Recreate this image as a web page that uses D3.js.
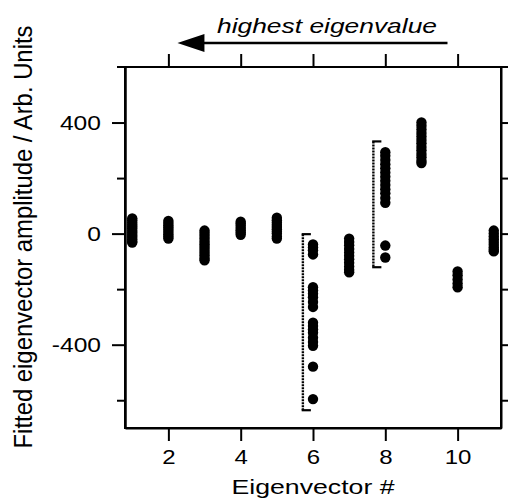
<!DOCTYPE html>
<html>
<head>
<meta charset="utf-8">
<script src="https://cdn.jsdelivr.net/npm/d3@7"></script>
<style>
  html, body { margin: 0; padding: 0; background: #fff; }
  text { font-family: "Liberation Sans", Arial, sans-serif; fill: #000; }
</style>
</head>
<body>
<svg id="chart" width="510" height="500"></svg>
<script>
// ---- data ----
const eigenvectors = [1, 2, 3, 4, 5, 6, 7, 8, 9, 10, 11];
const amp1  = [55, 48, 40, 32, 25, 18, 10, 3, -5, -12, -20, -28, -32];
const amp2  = [46, 38, 30, 22, 14, 6, -2, -10, -18];
const amp3  = [11, 2, -8, -18, -28, -38, -48, -58, -68, -78, -88, -96];
const amp4  = [43, 36, 28, 20, 12, 4, -4];
const amp5  = [57, 48, 40, 32, 24, 16, 8, 0, -10, -18];
const amp6  = [-39, -50, -60, -75, -193, -205, -217, -229, -246, -264, -321, -333, -345, -357, -375, -390, -404, -479, -596];
const amp7  = [-18, -30, -42, -55, -68, -80, -92, -105, -118, -130, -139];
const amp8  = [293, 280, 265, 250, 235, 220, 205, 190, 175, 160, 145, 128, 111, -43, -86];
const amp9  = [400, 388, 375, 362, 350, 337, 325, 312, 300, 287, 275, 262, 254];
const amp10 = [-136, -150, -165, -180, -193];
const amp11 = [11, 0, -10, -20, -30, -40, -50, -58, -64];
const amplitudes = [amp1, amp2, amp3, amp4, amp5, amp6, amp7, amp8, amp9, amp10, amp11];

const xTicks = [2, 4, 6, 8, 10];
const yMajorTicks = [-400, 0, 400];
const yMinorTicks = [-600, -200, 200];
const yAllTicks = [-600, -400, -200, 0, 200, 400];

// brackets (data coordinates)
const bracketX = [5.72, 7.67];
const bracketTop = [-2, 332];
const bracketBottom = [-636, -121];

// arrow (data coordinates along eigenvector axis)
const arrowFrom = 9.72;
const arrowTo = 2.25;

const xTitle = "Eigenvector #";
const yTitle = "Fitted eigenvector amplitude / Arb. Units";
const topLabel = "highest eigenvalue";

// ---- drawing ----
const svg = d3.select("#chart");
const x = d3.scaleLinear().domain([0.8, 11.2]).range([125, 501]);
const y = d3.scaleLinear().domain([-700, 600]).range([428, 67]);
const SW = 2;

function stretch(sel, f) {
  sel.each(function () {
    const w = this.getComputedTextLength();
    d3.select(this).attr("textLength", w * f).attr("lengthAdjust", "spacingAndGlyphs");
  });
}

// left axis: major
const gL = svg.append("g").attr("transform", "translate(125,0)");
gL.call(d3.axisLeft(y).tickValues(yMajorTicks).tickSize(13).tickSizeOuter(0).tickPadding(11)
  .tickFormat(d => d < 0 ? "-" + Math.abs(d) : String(d)));
gL.selectAll("text").attr("font-size", 20.5).attr("fill", "#000").attr("font-family", "Liberation Sans, Arial, sans-serif");
// minor
const gL2 = svg.append("g").attr("transform", "translate(125,0)");
gL2.call(d3.axisLeft(y).tickValues(yMinorTicks).tickSize(8).tickSizeOuter(0).tickFormat(""));

// right axis
const gR = svg.append("g").attr("transform", "translate(501,0)");
gR.call(d3.axisRight(y).tickValues(yAllTicks).tickSize(7).tickSizeOuter(0).tickFormat(""));

// bottom axis
const gB = svg.append("g").attr("transform", "translate(0,428)");
gB.call(d3.axisBottom(x).tickValues(xTicks).tickSize(13).tickSizeOuter(0).tickPadding(9).tickFormat(d3.format("d")));
gB.selectAll("text").attr("font-size", 20).attr("fill", "#000").attr("font-family", "Liberation Sans, Arial, sans-serif");

// top axis
const gT = svg.append("g").attr("transform", "translate(0,67)");
gT.call(d3.axisTop(x).tickValues(xTicks).tickSize(13).tickSizeOuter(0).tickFormat(""));
gT.select(".domain").remove();
gT.append("line").attr("x1", 117).attr("x2", 508).attr("y1", 0).attr("y2", 0)
  .attr("stroke", "#000").attr("stroke-width", SW);

[gL, gL2, gR, gB, gT].forEach(g => {
  g.selectAll("path.domain").attr("stroke", "#000").attr("stroke-width", SW);
  g.selectAll(".tick line").attr("stroke", "#000").attr("stroke-width", SW);
});

stretch(gL.selectAll("text"), 1.2);
stretch(gB.selectAll("text"), 1.2);

// frame
svg.append("line").attr("x1", 125).attr("x2", 125).attr("y1", 66).attr("y2", 429)
  .attr("stroke", "#000").attr("stroke-width", SW);
svg.append("line").attr("x1", 501).attr("x2", 501).attr("y1", 66).attr("y2", 429)
  .attr("stroke", "#000").attr("stroke-width", SW);
svg.append("line").attr("x1", 124).attr("x2", 502).attr("y1", 428).attr("y2", 428)
  .attr("stroke", "#000").attr("stroke-width", SW);

// brackets
bracketX.forEach((bx, i) => {
  const px = x(bx), t = y(bracketTop[i]), b = y(bracketBottom[i]);
  svg.append("line").attr("x1", px).attr("x2", px).attr("y1", t).attr("y2", b)
    .attr("stroke", "#000").attr("stroke-width", 2.4).attr("stroke-dasharray", "2,1");
  [t, b].forEach(yy => {
    svg.append("line").attr("x1", px - 1.2).attr("x2", px + 8).attr("y1", yy).attr("y2", yy)
      .attr("stroke", "#000").attr("stroke-width", 2.2);
  });
});

// points
const pts = [];
eigenvectors.forEach((ev, i) => amplitudes[i].forEach(v => pts.push([ev, v])));
svg.append("g").selectAll("circle").data(pts).join("circle")
  .attr("cx", d => x(d[0])).attr("cy", d => y(d[1])).attr("r", 5.2).attr("fill", "#000");

// arrow
const ay = 43;
const tipX = x(arrowTo);
svg.append("line").attr("x1", x(arrowFrom)).attr("x2", tipX + 20).attr("y1", ay).attr("y2", ay)
  .attr("stroke", "#000").attr("stroke-width", 2.6);
svg.append("path").attr("d", `M${tipX},${ay} L${tipX + 27},${ay - 9} L${tipX + 27},${ay + 9} Z`).attr("fill", "#000");

// top label
svg.append("text").attr("x", 327).attr("y", 33).attr("text-anchor", "middle")
  .attr("font-size", 21).attr("font-style", "italic").text(topLabel)
  .attr("textLength", 220).attr("lengthAdjust", "spacingAndGlyphs");

// x title
svg.append("text").attr("x", 313).attr("y", 494).attr("text-anchor", "middle")
  .attr("font-size", 20).text(xTitle)
  .attr("textLength", 163).attr("lengthAdjust", "spacingAndGlyphs");

// y title
svg.append("text").attr("transform", "translate(32,237) scale(1.15,1) rotate(-90)")
  .attr("text-anchor", "middle").attr("font-size", 22).text(yTitle)
  .attr("textLength", 423).attr("lengthAdjust", "spacingAndGlyphs");
</script>
</body>
</html>
